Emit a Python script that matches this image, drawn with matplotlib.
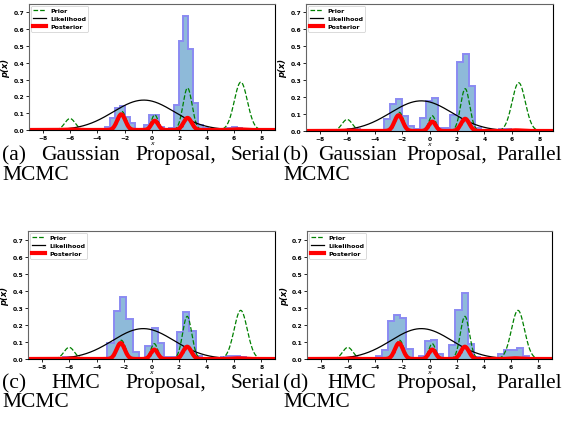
import numpy as np
import matplotlib.pyplot as plt
from matplotlib.transforms import IdentityTransform

# --- curve parameters (peak position, peak height, width) ---
prior_means = [-6.0, -2.2, 0.2, 2.6, 6.5]
prior_peaks = [0.068, 0.11, 0.09, 0.25, 0.285]
prior_sigmas = [0.38, 0.30, 0.25, 0.33, 0.48]

like_mean = -0.6
like_peak = 0.178
like_sigma = 2.24

post_means = [-6.0, -2.25, 0.2, 2.6, 6.3]
post_peaks = [0.003, 0.093, 0.055, 0.072, 0.004]
post_sigmas = [0.40, 0.30, 0.25, 0.30, 0.40]

# --- histogram of samples: first bin edge, bin width, bar heights ---
hist_a_start, hist_a_width = -6.27, 0.357
hist_a_heights = [0.003, 0.005, 0.005, 0.003, 0.002, 0.001, 0.0, 0.003,
                  0.016, 0.07, 0.13, 0.14, 0.08, 0.04, 0.003, 0.0,
                  0.03, 0.09, 0.088, 0.02, 0.003, 0.01,
                  0.15, 0.53, 0.68, 0.48, 0.16, 0.03, 0.01,
                  0.003, 0.002, 0.002, 0.003, 0.01, 0.015, 0.012, 0.005]

hist_b_start, hist_b_width = -6.39, 0.44
hist_b_heights = [0.008, 0.01, 0.01, 0.004, 0.0, 0.0, 0.003,
                  0.07, 0.16, 0.19, 0.09, 0.03, 0.01,
                  0.075, 0.175, 0.195, 0.02, 0.02,
                  0.095, 0.405, 0.455, 0.265, 0.02,
                  0.003, 0.0, 0.0, 0.01, 0.01, 0.003]

hist_c_start, hist_c_width = -6.44, 0.46
hist_c_heights = [0.012, 0.012, 0.008, 0.004, 0.0, 0.0, 0.0,
                  0.095, 0.28, 0.365, 0.235, 0.04, 0.0,
                  0.075, 0.18, 0.095, 0.01,
                  0.01, 0.16, 0.275, 0.165, 0.02,
                  0.003, 0.0, 0.005, 0.01, 0.02, 0.02, 0.01, 0.003]

hist_d_start, hist_d_width = -6.64, 0.45
hist_d_heights = [0.003, 0.008, 0.01, 0.006, 0.003, 0.002,
                  0.015, 0.05, 0.22, 0.255, 0.24, 0.06, 0.0,
                  0.02, 0.105, 0.11, 0.03, 0.0,
                  0.08, 0.29, 0.385, 0.085, 0.01,
                  0.0, 0.0, 0.005, 0.03, 0.05, 0.055, 0.065, 0.02]

captions = [
    ("(a) Gaussian Proposal, Serial", "MCMC"),
    ("(b) Gaussian Proposal, Parallel", "MCMC"),
    ("(c) HMC Proposal, Serial", "MCMC"),
    ("(d) HMC Proposal, Parallel", "MCMC"),
]

W, H = 565, 431
fig = plt.figure(figsize=(W / 100, H / 100), dpi=100)

# axes boxes in pixels: left, right, top, bottom
boxes = [(29, 275, 5, 131), (306, 553, 5, 132),
         (28, 275, 232, 360), (307, 552, 232, 360)]
hists = [(hist_a_start, hist_a_width, hist_a_heights),
         (hist_b_start, hist_b_width, hist_b_heights),
         (hist_c_start, hist_c_width, hist_c_heights),
         (hist_d_start, hist_d_width, hist_d_heights)]

xs = np.linspace(-9, 9, 900)


def bumps(x, means, peaks, sigmas):
    y = np.zeros_like(x)
    for m, p, s in zip(means, peaks, sigmas):
        y += p * np.exp(-(x - m) ** 2 / (2 * s ** 2))
    return y


prior = bumps(xs, prior_means, prior_peaks, prior_sigmas)
like = bumps(xs, [like_mean], [like_peak], [like_sigma])
post = bumps(xs, post_means, post_peaks, post_sigmas)

for (l, r, t, b), (start, width, heights) in zip(boxes, hists):
    ax = fig.add_axes([l / W, 1 - b / H, (r - l) / W, (b - t) / H])
    edges = start + width * np.arange(len(heights) + 1)
    centers = edges[:-1] + width / 2
    ax.hist(centers, bins=edges, weights=heights, histtype='stepfilled',
            color='#1f77b4', alpha=0.5, linewidth=0)
    ax.hist(centers, bins=edges, weights=heights, histtype='step',
            color='#8a8af2', linewidth=1.4)
    ax.plot(xs, prior, 'g--', lw=0.9, label='Prior')
    ax.plot(xs, like, 'k-', lw=0.9, label='Likelihood')
    ax.plot(xs, post, color='red', lw=3.0, marker='+', markersize=2,
            markevery=6, label='Posterior')
    ax.set_xlim(-9, 9)
    ax.set_ylim(0, 0.75)
    ax.set_xticks(range(-8, 9, 2))
    ax.set_yticks(np.arange(0, 0.71, 0.1))
    ax.set_yticklabels([f'{v:.1f}' for v in np.arange(0, 0.71, 0.1)])
    ax.tick_params(labelsize=4.3, length=2, width=0.6, pad=1.5)
    for lab in ax.get_xticklabels() + ax.get_yticklabels():
        lab.set_fontweight('bold')
    for s in ax.spines.values():
        s.set_linewidth(0.8)
    ax.spines['top'].set_color('#666666')
    ax.spines['left'].set_color('#666666')
    ax.set_xlabel('x', fontsize=4.5, fontstyle='italic', labelpad=0)
    ax.set_ylabel('p(x)', fontsize=6, fontstyle='italic', fontweight='bold')
    ax.yaxis.set_label_coords(-0.075, 0.5)
    leg = ax.legend(loc='upper left', prop={'size': 4.5, 'weight': 'bold'},
                    handlelength=2.0, borderpad=0.4, labelspacing=0.4,
                    handletextpad=0.7, borderaxespad=0.25, framealpha=1)
    leg.get_frame().set_linewidth(0.5)

# captions, justified like a two-column paper layout
renderer = fig.canvas.get_renderer()
cols = [(2, 281), (283, 562), (2, 281), (283, 562)]
lines_y = [(160, 180), (160, 180), (388, 407), (388, 407)]
for (first, second), (x0, x1), (y1, y2) in zip(captions, cols, lines_y):
    words = first.split()
    texts = [fig.text(0, H - y1, w, fontsize=15.5, family='Liberation Serif',
                      transform=IdentityTransform(), va='baseline')
             for w in words]
    widths = [t.get_window_extent(renderer).width for t in texts]
    gap = (x1 - x0 - sum(widths)) / (len(words) - 1)
    x = x0
    for t, w in zip(texts, widths):
        t.set_x(x)
        x += w + gap
    fig.text(x0, H - y2, second, fontsize=15.5, family='Liberation Serif',
             transform=IdentityTransform(), va='baseline')

fig.savefig('out.png', dpi=100)
